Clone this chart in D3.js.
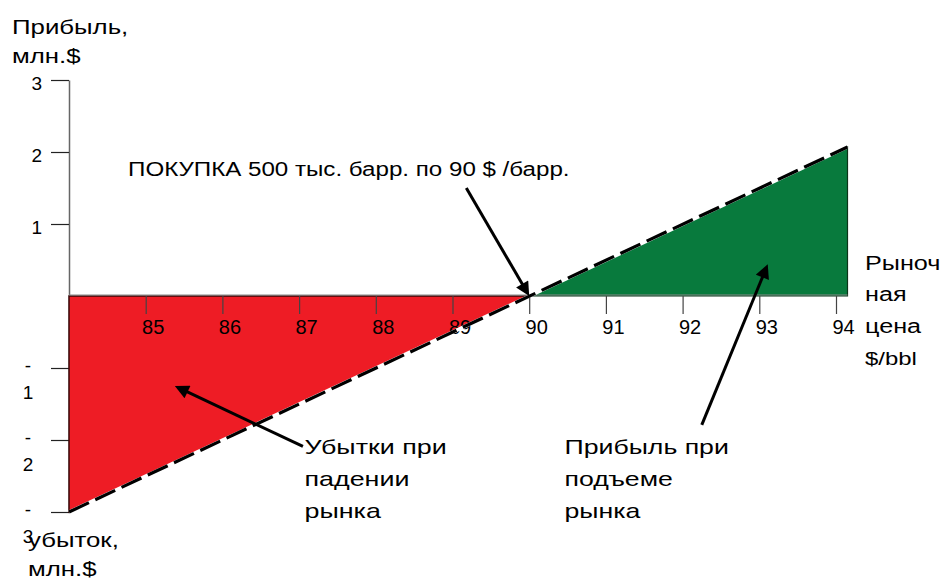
<!DOCTYPE html>
<html>
<head>
<meta charset="utf-8">
<script src="https://cdn.jsdelivr.net/npm/d3@7"></script>
<style>
  body { margin: 0; background: #fff; }
  text { font-family: Arial, "Liberation Sans", sans-serif; fill: #000; }
</style>
</head>
<body>
<div id="grafica"></div>
<script>
// datos de la grafica
const priceTicks = [85, 86, 87, 88, 89, 90, 91, 92, 93, 94];
const profitTicks = [3, 2, 1, -1, -2, -3];
const lossArea = [
  { price: 84, profit: 0 },
  { price: 90, profit: 0 },
  { price: 84, profit: -3 }
];
const gainArea = [
  { price: 90, profit: 0 },
  { price: 94.15, profit: 2.07 },
  { price: 94.15, profit: 0 }
];
const payoffLine = [
  { price: 84, profit: -3 },
  { price: 94.15, profit: 2.07 }
];

// flechas y textos en unidades de la grafica
const arrows = [
  { from: [89.18, 1.50], to: [90.0, 0.0] },
  { from: [87.05, -2.09], to: [85.38, -1.25] },
  { from: [92.25, -1.79], to: [93.11, 0.44] }
];
const notes = [
  { x: 84.77, y: 1.67, lines: ["ПОКУПКА 500 тыс. барр. по 90 $ /барр."], stretch: 1.15 },
  { x: 87.07, y: -2.2, lines: ["Убытки при", "падении", "рынка"], stretch: 1.28 },
  { x: 90.46, y: -2.2, lines: ["Прибыль при", "подъеме", "рынка"], stretch: 1.27 }
];

const width = 948;
const height = 580;

const x = d3.scaleLinear().domain([84, 94]).range([69, 836]);
const y = d3.scaleLinear().domain([-3, 3]).range([512, 80]);

const svg = d3.select("#grafica").append("svg")
  .attr("width", width)
  .attr("height", height)
  .style("display", "block");

svg.append("rect").attr("width", width).attr("height", height).attr("fill", "#fff");

const defs = svg.append("defs");
defs.append("marker")
  .attr("id", "flecha")
  .attr("viewBox", "0 0 10 10")
  .attr("refX", 10)
  .attr("refY", 5)
  .attr("markerWidth", 17)
  .attr("markerHeight", 14)
  .attr("markerUnits", "userSpaceOnUse")
  .attr("orient", "auto")
  .append("path")
  .attr("d", "M0,0L10,5L0,10Z")
  .attr("fill", "#000");

const area = d3.line().x(d => x(d.price)).y(d => y(d.profit)).curve(d3.curveLinearClosed);

// eje Y primero, los poligonos lo tapan
const yAxis = d3.axisLeft(y)
  .tickValues(profitTicks)
  .tickFormat(d => d)
  .tickSize(18)
  .tickSizeOuter(0)
  .tickPadding(9);
const gy = svg.append("g")
  .attr("transform", `translate(${x(84)},0)`)
  .call(yAxis);
gy.select(".domain").attr("stroke", "#666").attr("stroke-width", 1.5);
gy.selectAll(".tick line").attr("stroke", "#222").attr("stroke-width", 1.2);
gy.selectAll(".tick text")
  .style("font-size", "19px")
  .attr("dy", 9)
  .each(function (d) {
    const t = d3.select(this);
    if (d < 0) {
      t.text(null).attr("text-anchor", "middle").attr("x", -41).attr("dy", 0);
      t.append("tspan").attr("x", -41).attr("dy", 3).text("-");
      t.append("tspan").attr("x", -41).attr("dy", 27).text(Math.abs(d));
    }
  });

// areas de perdida y ganancia
svg.append("path")
  .attr("d", area(lossArea))
  .attr("fill", "#ee1c25")
  .attr("stroke", "#3a0808")
  .attr("stroke-width", 1.5);

svg.append("path")
  .attr("d", area(gainArea))
  .attr("fill", "#087a3d")
  .attr("stroke", "#0b3318")
  .attr("stroke-width", 1.2);

// eje X
svg.append("line")
  .attr("x1", x(84)).attr("x2", x(94.15))
  .attr("y1", y(0) - 1).attr("y2", y(0) - 1)
  .attr("stroke", "#888").attr("stroke-width", 1.2);

const xAxis = d3.axisBottom(x).tickValues(priceTicks).tickSize(18).tickSizeOuter(0);
const gx = svg.append("g")
  .attr("transform", `translate(0,${y(0)})`)
  .call(xAxis);
gx.select(".domain").remove();
gx.selectAll(".tick line").attr("stroke", "#444").attr("stroke-width", 1.2);
gx.selectAll(".tick text")
  .style("font-size", "20px")
  .attr("x", 7)
  .attr("y", 38)
  .attr("dy", 0);

// linea de resultado punteada
const line = d3.line().x(d => x(d.price)).y(d => y(d.profit));
svg.append("path")
  .attr("d", line(payoffLine))
  .attr("fill", "none")
  .attr("stroke", "#fff")
  .attr("stroke-width", 3.5);
svg.append("path")
  .attr("d", line(payoffLine))
  .attr("fill", "none")
  .attr("stroke", "#000")
  .attr("stroke-width", 3.2)
  .attr("stroke-dasharray", "22,7");

// flechas
arrows.forEach(a => {
  const x1 = x(a.from[0]), y1 = y(a.from[1]);
  const x2 = x(a.to[0]), y2 = y(a.to[1]);
  const len = Math.hypot(x2 - x1, y2 - y1);
  const k = (len - 8) / len;
  svg.append("line")
    .attr("x1", x1).attr("y1", y1)
    .attr("x2", x1 + (x2 - x1) * k).attr("y2", y1 + (y2 - y1) * k)
    .attr("stroke", "#000")
    .attr("stroke-width", 3);
  svg.append("path")
    .attr("d", `M${x1},${y1}L${x2},${y2}`)
    .attr("stroke", "none")
    .attr("fill", "none")
    .attr("marker-end", "url(#flecha)");
});

// texto en varias lineas, algo ensanchado como en el original
function multiline(px, py, lines, step, size, stretch) {
  const t = svg.append("text")
    .attr("transform", `translate(${px},${py}) scale(${stretch},1)`)
    .style("font-size", size);
  lines.forEach((s, i) => {
    t.append("tspan").attr("x", 0).attr("dy", i === 0 ? 0 : step).text(s);
  });
  return t;
}

// textos de anotacion
notes.forEach(n => {
  multiline(x(n.x), y(n.y), n.lines, 32, "21px", n.stretch);
});

// titulos de los ejes
multiline(12, 34, ["Прибыль,", "млн.$"], 29, "20px", 1.29);
multiline(28, 547, ["убыток,", "млн.$"], 29, "20px", 1.29);
multiline(865, 270, ["Рыноч", "ная", "цена"], 31.5, "21px", 1.2);
multiline(865, 365, ["$/bbl"], 0, "18px", 1.33);
</script>
</body>
</html>
